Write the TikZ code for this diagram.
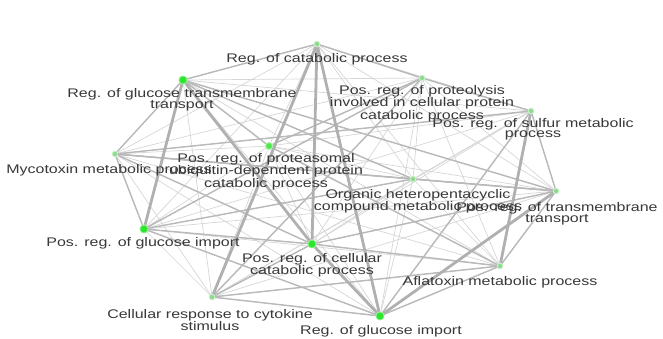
\documentclass[tikz,border=0pt]{standalone}
\usepackage{fontspec}
\setmainfont{Liberation Sans}[FakeStretch=1.28]
\pgfdeclarelayer{bg}
\pgfsetlayers{bg,main}
\definecolor{bigg}{rgb}{0.18,0.90,0.18}
\definecolor{smallg}{rgb}{0.55,0.86,0.55}
\tikzset{
  x=1pt, y=-1pt,
  bigdot/.style={circle, fill=bigg, draw=bigg!60!white, line width=0.8pt, minimum size=8pt, inner sep=0pt},
  smalldot/.style={circle, fill=smallg, draw=smallg!50!white, line width=1pt, minimum size=5.5pt, inner sep=0pt},
  middot/.style={circle, fill=bigg!85!white, draw=bigg!40!white, line width=0.8pt, minimum size=7pt, inner sep=0pt},
  lbl/.style={align=center, font=\fontsize{12.5}{10.5}\selectfont, text=black!78, inner sep=0pt, anchor=north},
  lightedge/.style={draw=gray!32, line width=0.7pt},
  mededge/.style={draw=gray!55, line width=1.4pt},
  thickedge/.style={draw=gray!62, line width=2.8pt},
}
\begin{document}
\begin{tikzpicture}
\useasboundingbox (0,0) rectangle (663,338);
% nodes
\node[smalldot] (n1) at (317,44) {};   % Reg. of catabolic process
\node[bigdot]   (n2) at (183,80) {};   % Reg. of glucose transmembrane transport
\node[smalldot] (n3) at (422,78) {};   % Pos. reg. of proteolysis ...
\node[smalldot] (n4) at (531,111) {};  % Pos. reg. of sulfur metabolic process
\node[smalldot] (n5) at (115,154) {};  % Mycotoxin metabolic process
\node[middot]   (n6) at (269,146) {};  % Pos. reg. of proteasomal ...
\node[smalldot] (n7) at (413,179) {};  % Organic heteropentacyclic ...
\node[smalldot] (n8) at (556,191) {};  % Pos. reg. of transmembrane transport
\node[bigdot]   (n9) at (144,229) {};  % Pos. reg. of glucose import
\node[bigdot]   (n10) at (312,244) {}; % Pos. reg. of cellular catabolic process
\node[smalldot] (n11) at (500,266) {}; % Aflatoxin metabolic process
\node[smalldot] (n12) at (212,297) {}; % Cellular response to cytokine stimulus
\node[bigdot]   (n13) at (380,316) {}; % Reg. of glucose import

\begin{pgfonlayer}{bg}
\foreach \i in {1,...,12} {
  \pgfmathtruncatemacro\s{\i+1}
  \foreach \j in {\s,...,13} { \draw[lightedge] (n\i) -- (n\j); }
}
\foreach \a/\b in {1/2,1/3,2/5,2/6,2/7,2/8,5/7,5/8,5/10,5/9,6/11,3/9,4/5,4/13,7/8,7/9,8/10,9/10,9/13,12/10,12/11,12/13,3/4,4/8,11/8,10/11,11/13,3/6,3/12}
  { \draw[mededge] (n\a) -- (n\b); }
\foreach \a/\b in {1/12,1/10,1/13,2/9,2/10,4/11,13/8,10/13}
  { \draw[thickedge] (n\a) -- (n\b); }
\end{pgfonlayer}

% labels
\node[lbl] (t1) at (317,53) {Reg. of catabolic process};
\node[lbl] (t2) at (182,88) {Reg. of glucose transmembrane\\transport};
\node[lbl] (t3) at (422,85) {Pos. reg. of proteolysis\\involved in cellular protein\\catabolic process};
\node[lbl] (t4) at (533,118) {Pos. reg. of sulfur metabolic\\process};
\node[lbl] (t5) at (109,164) {Mycotoxin metabolic process};
\node[lbl] (t6) at (266,153) {Pos. reg. of proteasomal\\ubiquitin-dependent protein\\catabolic process};
\node[lbl] (t7) at (418,189) {Organic heteropentacyclic\\compound metabolic process};
\node[lbl] (t8) at (557,202) {Pos. reg. of transmembrane\\transport};
\node[lbl] (t9) at (143,237) {Pos. reg. of glucose import};
\node[lbl] (t10) at (312,253) {Pos. reg. of cellular\\catabolic process};
\node[lbl] (t11) at (500,276) {Aflatoxin metabolic process};
\node[lbl] (t12) at (210,309) {Cellular response to cytokine\\stimulus};
\node[lbl] (t13) at (381,325) {Reg. of glucose import};
\end{tikzpicture}
\end{document}
